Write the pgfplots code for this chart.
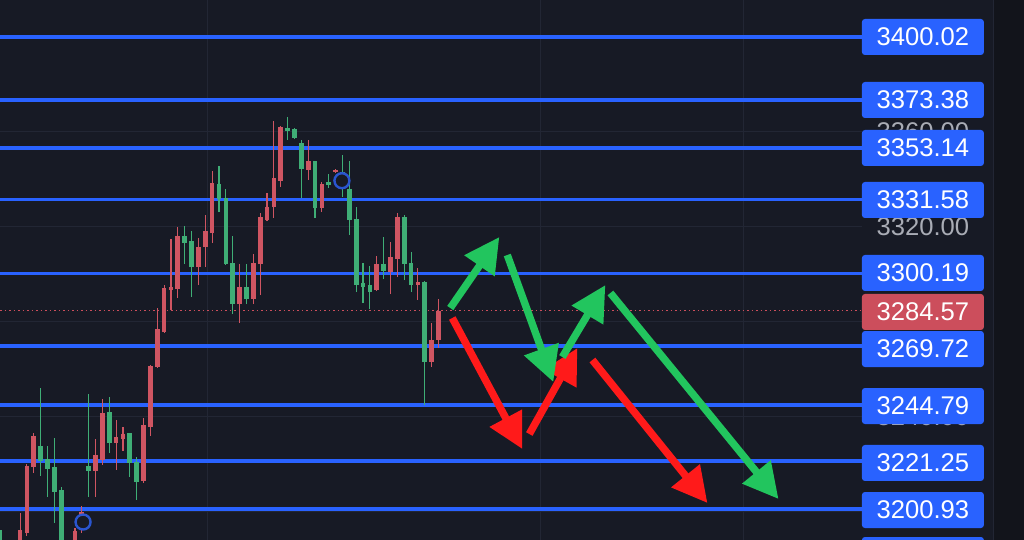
\documentclass[border=0pt]{standalone}
\usepackage{pgfplots}
\pgfplotsset{compat=1.18}
\usepackage{pgfplotstable}
\usepackage{fontspec}
\setmainfont{Liberation Sans}
\usetikzlibrary{arrows.meta}

\definecolor{bg}{HTML}{171A25}
\definecolor{bgside}{HTML}{12141B}
\definecolor{gridc}{HTML}{222634}
\definecolor{lvlblue}{HTML}{2962FF}
\definecolor{candup}{HTML}{CF5562}
\definecolor{canddn}{HTML}{3FAE76}
\definecolor{lastred}{HTML}{CC4E5C}
\definecolor{arrgreen}{HTML}{22C55E}
\definecolor{arrred}{HTML}{FF1A1A}
\definecolor{scalegrey}{HTML}{A9ACB5}
\definecolor{ringblue}{HTML}{2A55D0}

% rising candles (close above open)
\pgfplotstableread{
i  o       h       l       c
1  3178.00 3185.00 3175.00 3183.00
3  3184.50 3199.27 3181.00 3192.10
4  3190.83 3219.94 3189.57 3219.09
5  3218.67 3233.00 3216.14 3231.74
10 3180.00 3186.50 3177.00 3184.00
11 3181.55 3192.94 3179.44 3191.68
12 3192.10 3202.22 3190.83 3199.69
14 3216.98 3230.47 3206.02 3223.73
15 3221.62 3247.38 3219.51 3241.48
17 3228.79 3238.49 3217.41 3231.32
18 3230.47 3235.53 3225.41 3232.58
21 3212.77 3239.33 3211.92 3236.37
22 3235.53 3261.68 3231.74 3261.26
23 3260.84 3285.72 3260.50 3276.86
24 3275.60 3295.41 3275.20 3294.15
25 3293.31 3314.82 3284.88 3294.57
26 3293.73 3319.87 3289.94 3316.08
29 3303.00 3315.24 3295.41 3311.44
30 3311.44 3324.94 3303.00 3318.19
31 3317.35 3343.51 3313.13 3338.44
35 3287.41 3304.26 3279.39 3294.57
37 3289.52 3308.49 3287.41 3304.69
38 3304.26 3325.78 3291.20 3324.09
39 3322.83 3334.23 3322.60 3328.32
40 3328.32 3364.60 3323.67 3340.55
41 3339.29 3362.30 3336.76 3362.06
45 3343.93 3356.58 3339.71 3347.72
47 3327.89 3338.87 3326.20 3338.02
49 3343.09 3344.36 3342.66 3343.93
55 3293.31 3307.64 3293.00 3304.26
57 3300.89 3313.55 3291.62 3307.22
58 3306.37 3325.78 3298.78 3324.09
61 3295.41 3302.58 3289.10 3296.68
63 3262.94 3279.39 3260.84 3272.23
64 3272.23 3289.52 3268.85 3284.57
}\upc

% falling candles (close below open)
\pgfplotstableread{
i  o       h       l       c
0  3192.10 3193.78 3182.81 3184.50
2  3184.00 3186.00 3176.00 3179.00
6  3227.52 3252.02 3214.88 3221.20
7  3222.04 3227.52 3206.02 3217.83
8  3218.67 3230.90 3195.05 3208.13
9  3208.97 3210.23 3181.13 3183.66
13 3219.09 3249.49 3206.02 3216.98
16 3241.90 3248.22 3224.57 3228.79
19 3233.00 3233.20 3214.45 3220.36
20 3220.78 3222.88 3204.76 3212.34
27 3316.08 3320.30 3304.26 3313.13
28 3313.97 3318.19 3290.36 3303.00
32 3338.02 3345.61 3326.20 3331.69
33 3332.11 3335.91 3304.00 3304.26
34 3304.69 3316.08 3283.19 3287.41
36 3294.57 3304.26 3287.41 3289.52
42 3361.64 3366.28 3356.58 3360.38
43 3361.22 3361.64 3357.20 3357.42
44 3355.31 3356.58 3332.11 3344.36
46 3347.72 3347.90 3323.67 3327.89
48 3338.87 3342.24 3336.34 3337.60
50 3343.09 3350.25 3332.54 3336.34
51 3335.91 3347.72 3316.50 3322.83
52 3323.25 3328.32 3292.47 3295.41
53 3296.26 3304.69 3287.83 3294.57
54 3295.41 3303.42 3285.30 3292.47
56 3304.26 3315.66 3297.94 3301.31
59 3324.09 3324.94 3297.52 3304.26
60 3304.69 3309.33 3292.47 3295.41
62 3296.68 3297.10 3244.79 3262.94
}\dnc

\tikzset{
  lvl/.style={anchor=west, fill=lvlblue, text=white, minimum width=61pt,
    minimum height=18pt, inner sep=0pt, rounded corners=1.5pt,
    font=\fontsize{12.8}{14}\selectfont},
  scalelbl/.style={anchor=west, text=scalegrey, minimum width=61pt,
    minimum height=18pt, inner sep=0pt, font=\fontsize{12.8}{14}\selectfont},
  tip/.style={-{Triangle[length=17.5pt,width=17.5pt]}, line width=3.7pt},
}

\begin{document}
\begin{tikzpicture}
\useasboundingbox (0,0) rectangle (512pt,270pt);
\clip (0,0) rectangle (512pt,270pt);
\fill[bg] (0,0) rectangle (512pt,270pt);
\fill[bgside] (496.5pt,0) rectangle (512pt,270pt);
\draw[gridc, line width=0.5pt] (496.5pt,0) -- (496.5pt,270pt);
\begin{axis}[
  at={(0,0)}, anchor=south west, scale only axis,
  width=430.75pt, height=270pt,
  xmin=0.073, xmax=125.67, ymin=3187.88, ymax=3415.625,
  axis line style={draw=none}, tick style={draw=none},
  major tick length=0pt,
  xtick={30.27,78.85,108.46}, ytick={3200,3240,3280,3320,3360,3400},
  xticklabels={}, yticklabels={},
  grid=major, major grid style={gridc, line width=0.5pt},
  clip=false,
]
% support / resistance levels
\pgfplotsinvokeforeach{3400.02,3373.38,3353.14,3331.58,3300.19,3269.72,3244.79,3221.25,3200.93}{
  \addplot[lvlblue, line width=1.75pt, forget plot] coordinates {(0.073,#1) (125.67,#1)};
}
% last price
\addplot[lastred, line width=0.75pt, dash pattern=on 0.75pt off 1.5pt] coordinates {(0.073,3284.57) (125.67,3284.57)};

% wicks
\addplot[draw=none, error bars/.cd, y dir=plus, y explicit, error mark=none,
  error bar style={draw=candup, line width=0.55pt}]
  table[x=i, y=l, y error expr=\thisrow{h}-\thisrow{l}] {\upc};
\addplot[draw=none, error bars/.cd, y dir=plus, y explicit, error mark=none,
  error bar style={draw=canddn, line width=0.55pt}]
  table[x=i, y=l, y error expr=\thisrow{h}-\thisrow{l}] {\dnc};
% bodies
\addplot[draw=none, error bars/.cd, y dir=plus, y explicit, error mark=none,
  error bar style={draw=candup, line width=2.35pt}]
  table[x=i, y expr={min(\thisrow{o},\thisrow{c})}, y error expr={abs(\thisrow{c}-\thisrow{o})}] {\upc};
\addplot[draw=none, error bars/.cd, y dir=plus, y explicit, error mark=none,
  error bar style={draw=canddn, line width=2.35pt}]
  table[x=i, y expr={min(\thisrow{o},\thisrow{c})}, y error expr={abs(\thisrow{c}-\thisrow{o})}] {\dnc};

% event rings
\addplot[only marks, mark=*, mark size=3.75pt,
  mark options={draw=ringblue, fill=bg, line width=1.2pt}]
  coordinates {(12.18,3195.46) (49.92,3339.41)};

% projected paths
\addplot[arrred, tip] coordinates {(66.01,3281.50) (76.22,3226.26)};
\addplot[arrred, tip] coordinates {(77.24,3232.58) (84.25,3268.85)};
\addplot[arrred, tip] coordinates {(86.44,3263.79) (103.21,3203.48)};
\addplot[arrgreen, tip] coordinates {(65.72,3285.72) (72.87,3315.66)};
\addplot[arrgreen, tip] coordinates {(74.03,3308.07) (80.74,3254.51)};
\addplot[arrgreen, tip] coordinates {(82.06,3265.05) (88.33,3295.41)};
\addplot[arrgreen, tip] coordinates {(89.06,3292.05) (113.57,3205.17)};

% price scale (grid values peeking out from under the level tags)
\pgfplotsinvokeforeach{3240,3320,3360}{
  \node[scalelbl] at (axis cs:125.67,#1) {#1.00};
}
\node[lvl] at (axis cs:125.67,3400.02) {3400.02};
\node[lvl] at (axis cs:125.67,3373.45) {3373.38};
\node[lvl] at (axis cs:125.67,3353.21) {3353.14};
\node[lvl] at (axis cs:125.67,3331.28) {3331.58};
\node[lvl] at (axis cs:125.67,3300.49) {3300.19};
\node[lvl] at (axis cs:125.67,3268.43) {3269.72};
\node[lvl] at (axis cs:125.67,3244.39) {3244.79};
\node[lvl] at (axis cs:125.67,3220.36) {3221.25};
\node[lvl] at (axis cs:125.67,3200.53) {3200.93};
\node[lvl] at (axis cs:125.67,3181.55) {};
\node[lvl, fill=lastred] at (axis cs:125.67,3284.04) {3284.57};
\end{axis}
\end{tikzpicture}
\end{document}
